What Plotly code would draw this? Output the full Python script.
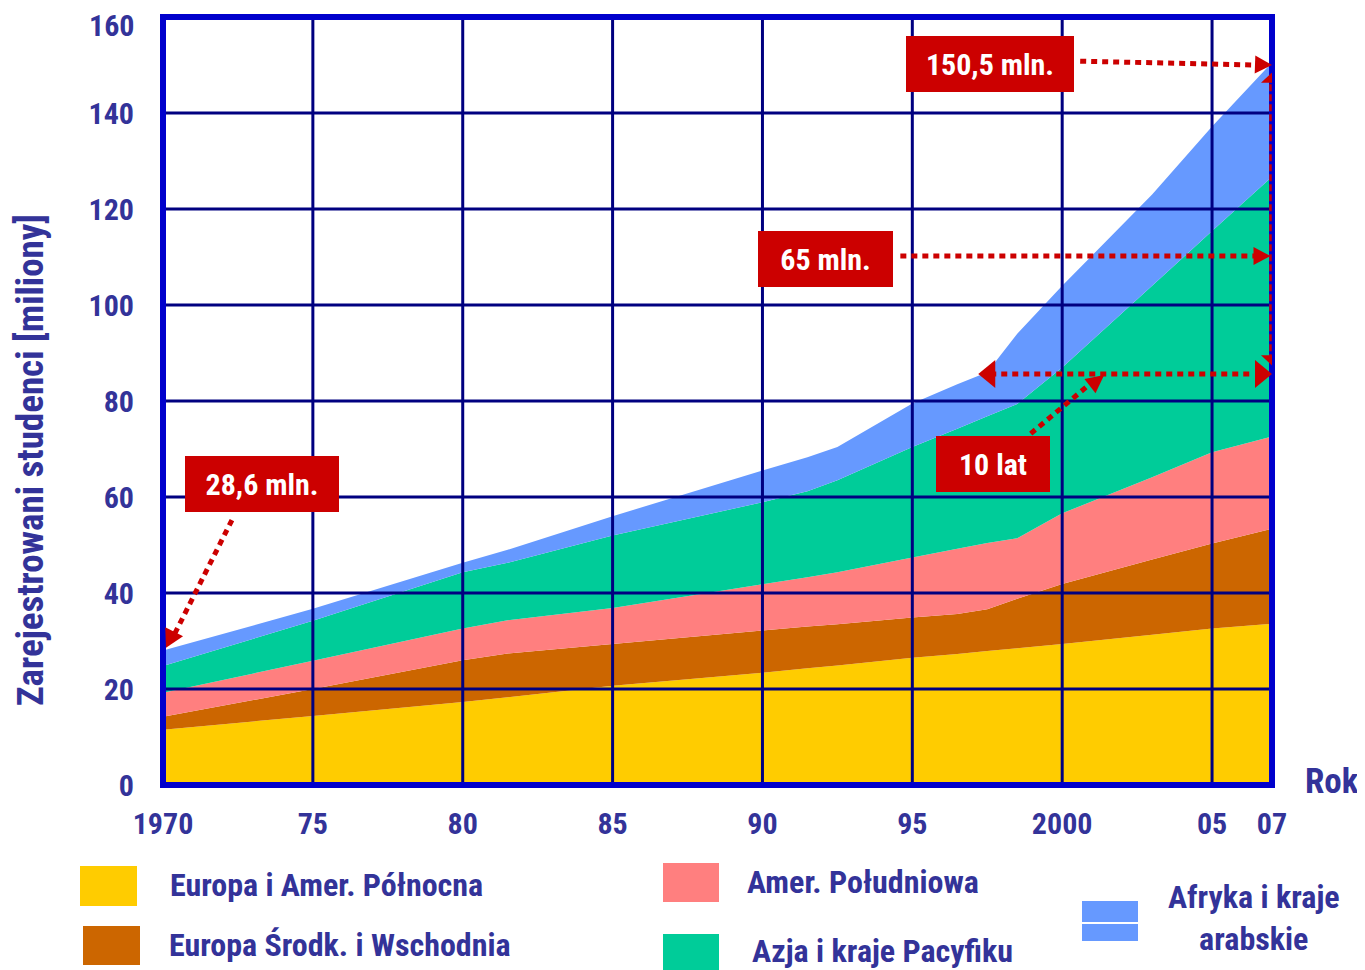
import math
import plotly.graph_objects as go

# ---------------- data (millions of students, per region, stacked) ----------------
years = [1970, 1975, 1980, 1981.5, 1985, 1990, 1991.5, 1992.5, 1995, 1996.5,
         1997.5, 1998.5, 2000, 2003, 2005, 2007]
europa_ameryka_pn = [11.5, 14.4, 17.3, 18.3, 20.7, 23.4, 24.3, 24.9, 26.5, 27.3,
                     27.9, 28.5, 29.4, 31.3, 32.6, 33.6]
europa_srodk_wsch = [2.7, 5.6, 8.7, 9.1, 8.7, 8.8, 8.7, 8.6, 8.4, 8.3,
                     8.7, 10.3, 12.5, 15.7, 17.7, 19.8]
ameryka_pd = [5.0, 5.9, 6.6, 6.9, 7.5, 9.6, 10.3, 10.8, 12.5, 13.6,
              13.8, 12.6, 14.7, 17.1, 19.0, 19.2]
azja_pacyfik = [5.6, 8.3, 11.7, 12.0, 15.1, 17.1, 17.9, 19.2, 23.0, 25.0,
                26.4, 28.0, 30.4, 39.9, 46.1, 54.1]
afryka_arab = [3.2, 2.5, 2.0, 2.7, 4.0, 6.6, 7.1, 6.9, 9.1, 9.3,
               9.2, 14.6, 17.0, 19.0, 21.8, 23.8]

series_names = ["Europa i Amer. Północna", "Europa Środk. i Wschodnia",
                "Amer. Południowa", "Azja i kraje Pacyfiku", "Afryka i kraje arabskie"]
series_values = [europa_ameryka_pn, europa_srodk_wsch, ameryka_pd, azja_pacyfik, afryka_arab]
colors = ["#FFCC00", "#CC6600", "#FF7F7F", "#00CC99", "#6699FF"]

x_tickvals = [1970, 1975, 1980, 1985, 1990, 1995, 2000, 2005, 2007]
x_ticktext = ["1970", "75", "80", "85", "90", "95", "2000", "05", "07"]
y_tickvals = [0, 20, 40, 60, 80, 100, 120, 140, 160]

total_1970 = 28.6
total_2007 = 150.5
diff_label = "65 mln."
decade_label = "10 lat"

# ---------------- style ----------------
FONT = "Roboto Condensed, Liberation Sans Narrow, Liberation Sans, Arial, sans-serif"
TXT = "#333399"
GRID = "#000080"
BORDER = "#0000CC"
RED = "#CC0000"

OFF = 8  # page body margin
W, H = 1365 - OFF, 970 - OFF
L, R, T, B = 163 - OFF, 1272 - OFF, 17 - OFF, 785 - OFF  # plot area pixels (figure coords)
X0, X1, Y0, Y1 = 1970, 2007, 0, 160


def px(xp):  # reference pixel -> paper
    return (xp - OFF - L) / (R - L)


def py(yp):
    return (B - (yp - OFF)) / (B - T)


def d2p(x, y):  # data -> figure pixel
    return (L + (x - X0) / (X1 - X0) * (R - L), B - (y - Y0) / (Y1 - Y0) * (B - T))


def p2d(xp, yp):
    return (X0 + (xp - L) / (R - L) * (X1 - X0), Y0 + (B - yp) / (B - T) * (Y1 - Y0))


fig = go.Figure()
for name, vals, col in zip(series_names, series_values, colors):
    fig.add_trace(go.Scatter(x=years, y=vals, name=name, stackgroup="one",
                             mode="none", fillcolor=col, line=dict(width=0),
                             hoverinfo="x+y+name"))

shapes = []
for xv in x_tickvals[1:-1]:
    shapes.append(dict(type="line", xref="x", yref="y", x0=xv, x1=xv, y0=Y0, y1=Y1,
                       line=dict(color=GRID, width=3), layer="above"))
for yv in y_tickvals[1:-1]:
    x_start = p2d(L - 9, 0)[0] if yv == 40 else X0
    shapes.append(dict(type="line", xref="x", yref="y", x0=x_start, x1=X1, y0=yv, y1=yv,
                       line=dict(color=GRID, width=3), layer="above"))
shapes.append(dict(type="rect", xref="paper", yref="paper", x0=0, x1=1, y0=0, y1=1,
                   line=dict(color=BORDER, width=6), layer="above"))


def dotted(x0, y0, x1, y1, width=5, dash="6px,5px"):
    shapes.append(dict(type="line", xref="x", yref="y", x0=x0, y0=y0, x1=x1, y1=y1,
                       line=dict(color=RED, width=width, dash=dash), layer="above"))


def head(tx, ty, ang, length, width):
    """Filled triangular arrow head; tip at data point, direction angle in degrees (screen, up=90)."""
    tpx, tpy = d2p(tx, ty)
    ux, uy = math.cos(math.radians(ang)), -math.sin(math.radians(ang))
    bx, by = tpx - ux * length, tpy - uy * length
    nx, ny = -uy, ux
    pts = [(tpx, tpy), (bx + nx * width / 2, by + ny * width / 2),
           (bx - nx * width / 2, by - ny * width / 2)]
    dpts = [p2d(a, b) for a, b in pts]
    path = "M " + " L ".join(f"{a:.4f},{b:.4f}" for a, b in dpts) + " Z"
    shapes.append(dict(type="path", xref="x", yref="y", path=path, fillcolor=RED,
                       line=dict(width=0), layer="above"))


# 28,6 mln arrow
dotted(1972.3, 55.2, 1970.35, 31.0)
head(1970.1, 28.6, 243, 18, 20)
# 150,5 mln arrow
dotted(2000.6, 150.8, 2006.4, 150.0)
head(2007.0, 150.0, -2, 17, 18)
# 65 mln arrow
dotted(1994.6, 110.2, 2006.4, 110.2)
head(2006.95, 110.2, 0, 17, 18)
# horizontal double arrow (10 years)
dotted(1997.6, 85.6, 2006.4, 85.6)
head(1997.2, 85.6, 180, 17, 28)
head(2007.0, 85.6, 0, 17, 28)
# vertical double arrow (65 mln)
dotted(2006.95, 146.0, 2006.95, 89.0, width=2.5, dash="7px,3px")
head(2007.1, 149.0, 90, 13, 28)
head(2007.1, 86.8, 270, 13, 28)
# 10 lat arrow
dotted(1998.95, 73.2, 2000.9, 83.4)
head(2001.4, 85.4, 38, 18, 18)

annotations = []


def box(text, xv, yv, w, h):
    annotations.append(dict(text=text, x=xv, y=yv, xref="x", yref="y", showarrow=False,
                            width=w, height=h, bgcolor=RED, borderpad=0, borderwidth=0,
                            font=dict(family=FONT, size=30, color="white", weight="bold"),
                            xanchor="center", yanchor="middle"))


box(f"{total_1970:.1f} mln.".replace(".", ",", 1), 1973.3, 62.7, 154, 56)
box(f"{total_2007:.1f} mln.".replace(".", ",", 1), 1997.6, 150.2, 168, 56)
box(diff_label, 1992.1, 109.6, 135, 56)
box(decade_label, 1997.7, 66.9, 114, 56)

# top y label (placed a little lower than the top edge, as in the original)
annotations.append(dict(text=str(y_tickvals[-1]), xref="paper", yref="y", x=0,
                        y=y_tickvals[-1], xanchor="right", yanchor="middle",
                        xshift=-27, yshift=-8, showarrow=False,
                        font=dict(family=FONT, size=30, color=TXT, weight="bold")))

annotations.append(dict(text="Zarejestrowani studenci [miliony]", xref="paper", yref="paper",
                        x=px(30), y=py(460), textangle=-90, showarrow=False,
                        font=dict(family=FONT, size=37, color=TXT, weight="bold"),
                        xanchor="center", yanchor="middle"))
annotations.append(dict(text="Rok", xref="paper", yref="paper", x=px(1303), y=py(781),
                        showarrow=False, xanchor="left", yanchor="middle",
                        font=dict(family=FONT, size=35, color=TXT, weight="bold")))

legend_boxes = [(80, 866, 137, 906), (83, 926, 140, 965), (663, 863, 719, 902),
                (663, 934, 719, 970), (1082, 901, 1138, 941)]
legend_text_pos = [(168, 885, "left"), (167, 945, "left"), (745, 882, "left"),
                   (750, 951, "left"), (1254, 918, "center")]
legend_labels = ["Europa i Amer. Północna", "Europa Środk. i Wschodnia", "Amer. Południowa",
                 "Azja i kraje Pacyfiku", "Afryka i kraje<br>arabskie"]
for (x0, y0, x1, y1), col in zip(legend_boxes, colors):
    shapes.append(dict(type="rect", xref="paper", yref="paper", x0=px(x0), x1=px(x1),
                       y0=py(y1), y1=py(y0), fillcolor=col, line=dict(width=0)))
shapes.append(dict(type="line", xref="paper", yref="paper", x0=px(1082), x1=px(1138),
                   y0=py(923), y1=py(923), line=dict(color="white", width=2)))
for (xp_, yp_, anc), lab in zip(legend_text_pos, legend_labels):
    annotations.append(dict(text=lab, xref="paper", yref="paper", x=px(xp_), y=py(yp_),
                            showarrow=False, xanchor=anc, yanchor="middle", align="center",
                            font=dict(family=FONT, size=32, color=TXT, weight="bold")))

fig.update_layout(
    width=W, height=H,
    margin=dict(l=L, r=W - R, t=T, b=H - B, pad=0, autoexpand=False),
    paper_bgcolor="white", plot_bgcolor="white",
    showlegend=False,
    shapes=shapes, annotations=annotations,
    xaxis=dict(range=[X0, X1], tickvals=x_tickvals, ticktext=x_ticktext,
               automargin=False,
               showgrid=False, zeroline=False, showline=False,
               ticks="outside", ticklen=12, tickcolor="rgba(0,0,0,0)",
               ticklabeloverflow="allow",
               tickfont=dict(family=FONT, size=30, color=TXT, weight="bold")),
    yaxis=dict(range=[Y0, Y1], tickvals=y_tickvals[:-1],
               automargin=False,
               showgrid=False, zeroline=False, showline=False,
               ticks="outside", ticklen=22, tickcolor="rgba(0,0,0,0)",
               ticklabeloverflow="allow",
               tickfont=dict(family=FONT, size=30, color=TXT, weight="bold")),
)

fig.write_html("out.html")
